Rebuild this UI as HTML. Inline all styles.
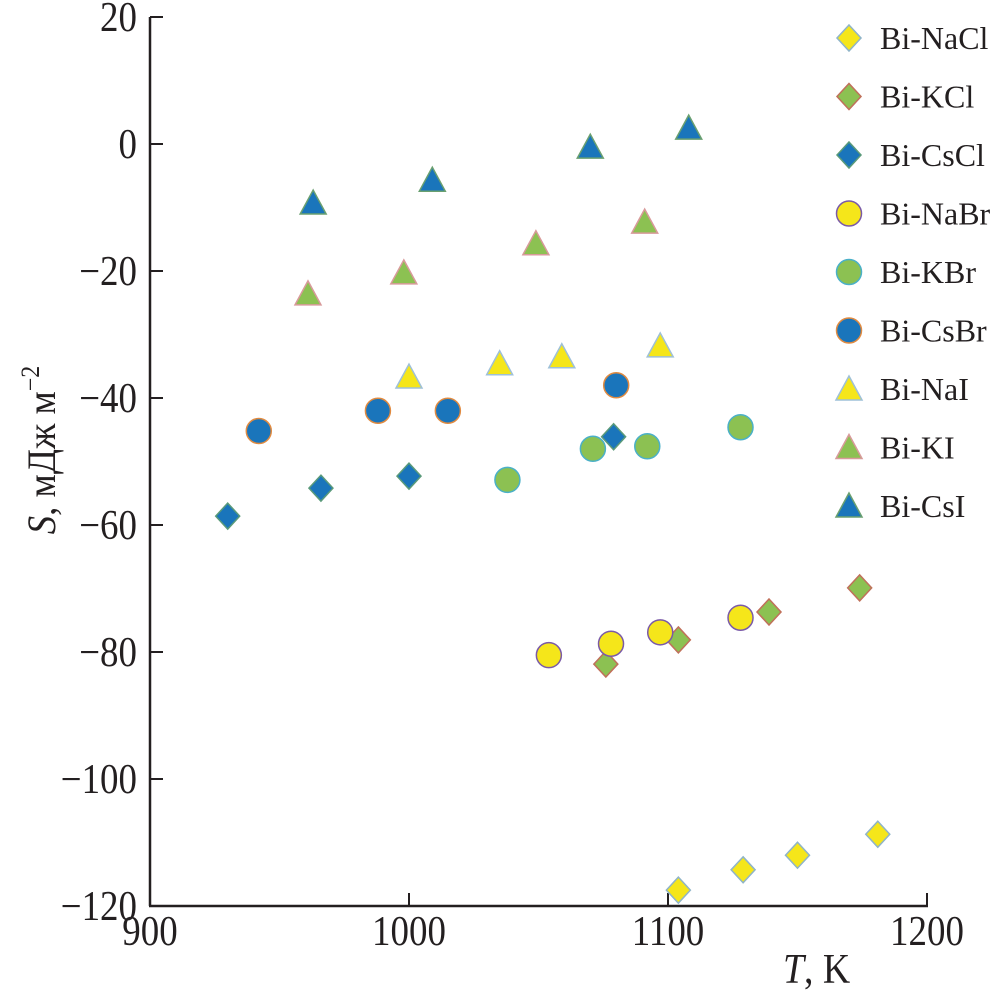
<!DOCTYPE html>
<html><head><meta charset="utf-8"><style>
html,body{margin:0;padding:0;background:#fff;}
svg text{font-family:"Liberation Serif",serif;fill:#231f20;}
</style></head><body>
<svg id="chart" width="1001" height="997" viewBox="0 0 1001 997" xmlns="http://www.w3.org/2000/svg">
<g id="axes"></g>
<g id="marks"></g>
<g id="legend"></g>
<text transform="translate(783,983) scale(0.9,1)" font-size="42"><tspan font-style="italic">T</tspan>, K</text>
<text transform="translate(55,450) rotate(-90) scale(0.92,1)" text-anchor="middle" font-size="40"><tspan font-style="italic">S</tspan>, мДж м<tspan font-size="26" dy="-16">−2</tspan></text>
</svg>
<script>
const xTicks=[900,1000,1100,1200];
const yTicks=[20,0,-20,-40,-60,-80,-100,-120];
const seriesNames=["Bi-NaCl","Bi-KCl","Bi-CsCl","Bi-NaBr","Bi-KBr","Bi-CsBr","Bi-NaI","Bi-KI","Bi-CsI"];
const nacl_T=[1104,1129,1150,1181], nacl_S=[-117.5,-114.3,-112,-108.7];
const kcl_T=[1076,1104,1139,1174], kcl_S=[-81.9,-78.1,-73.7,-69.9];
const cscl_T=[930,966,1000,1079], cscl_S=[-58.6,-54.2,-52.3,-46.1];
const nabr_T=[1054,1078,1097,1128], nabr_S=[-80.5,-78.7,-76.9,-74.6];
const kbr_T=[1038,1071,1092,1128], kbr_S=[-52.9,-48,-47.6,-44.6];
const csbr_T=[942,988,1015,1080], csbr_S=[-45.2,-42,-42,-38];
const nai_T=[1000,1035,1059,1097], nai_S=[-36.7,-34.6,-33.5,-31.8];
const ki_T=[961,998,1049,1091], ki_S=[-23.6,-20.3,-15.7,-12.3];
const csi_T=[963,1009,1070,1108], csi_S=[-9.3,-5.7,-0.5,2.5];

const NS="http://www.w3.org/2000/svg";
const x=v=>150+(v-900)*(927-150)/300;
const y=v=>144-v*(906-17)/140;
function mk(tag,at,parent){const e=document.createElementNS(NS,tag);for(const k in at)e.setAttribute(k,at[k]);parent.appendChild(e);return e;}
const axes=document.getElementById('axes');
let l=mk('line',{x1:150,y1:17,x2:150,y2:906,stroke:'#231f20','stroke-width':2.5},axes);


l=mk('line',{x1:149,y1:906,x2:928,y2:906,stroke:'#231f20','stroke-width':2.5},axes);


xTicks.forEach(t=>{
  if(t>900){const tk=mk('line',{x1:x(t),y1:906,x2:x(t),y2:893,stroke:'#231f20','stroke-width':2},axes);
  
  }
  const tx=mk('text',{transform:`translate(${x(t)},945) scale(0.88,1)`,'text-anchor':'middle','font-size':42},axes);
  tx.textContent=t;
  
  
});
yTicks.forEach(t=>{
  const tk=mk('line',{x1:150,y1:y(t),x2:163,y2:y(t),stroke:'#231f20','stroke-width':2},axes);
  
  
  const tx=mk('text',{transform:`translate(137,${y(t)+14}) scale(0.88,1)`,'text-anchor':'end','font-size':42},axes);
  tx.textContent=(t<0?'\u2212'+(-t):t);
  
  
});
const styles=[
 ['d','#f5e61a','#8fb4c8'],['d','#8cc152','#c0705a'],['d','#1a75bb','#5a9a7a'],
 ['c','#f5e61a','#7a5aa8'],['c','#8cc152','#4ab0c8'],['c','#1a75bb','#e08a40'],
 ['t','#f5e61a','#9ec0d8'],['t','#8cc152','#d89a9a'],['t','#1a75bb','#6aa070']];
const Ts=[nacl_T,kcl_T,cscl_T,nabr_T,kbr_T,csbr_T,nai_T,ki_T,csi_T];
const Ss=[nacl_S,kcl_S,cscl_S,nabr_S,kbr_S,csbr_S,nai_S,ki_S,csi_S];
function shape(s,cx,cy,parent){
  const [k,f,st]=s;let e;
  if(k==='d')e=mk('polygon',{points:`${cx},${cy-13} ${cx+12},${cy} ${cx},${cy+13} ${cx-12},${cy}`,fill:f,stroke:st,'stroke-width':1.5},parent);
  else if(k==='c')e=mk('circle',{cx:cx,cy:cy,r:12.5,fill:f,stroke:st,'stroke-width':1.5},parent);
  else e=mk('polygon',{points:`${cx},${cy-13} ${cx+13},${cy+11} ${cx-13},${cy+11}`,fill:f,stroke:st,'stroke-width':1.5},parent);
  return e;
}
const marks=document.getElementById('marks');
Ts.forEach((arr,i)=>arr.forEach((t,j)=>{
  const e=shape(styles[i],x(t),y(Ss[i][j]),marks);
  
  
}));
const legend=document.getElementById('legend');
seriesNames.forEach((n,i)=>{
  const cy=38+i*58.5;
  const e=shape(styles[i],849,cy,legend);
  
  
  const tx=mk('text',{x:880,y:cy+11,'font-size':32},legend);
  tx.textContent=n;
  
  
});
</script>
</body></html>
